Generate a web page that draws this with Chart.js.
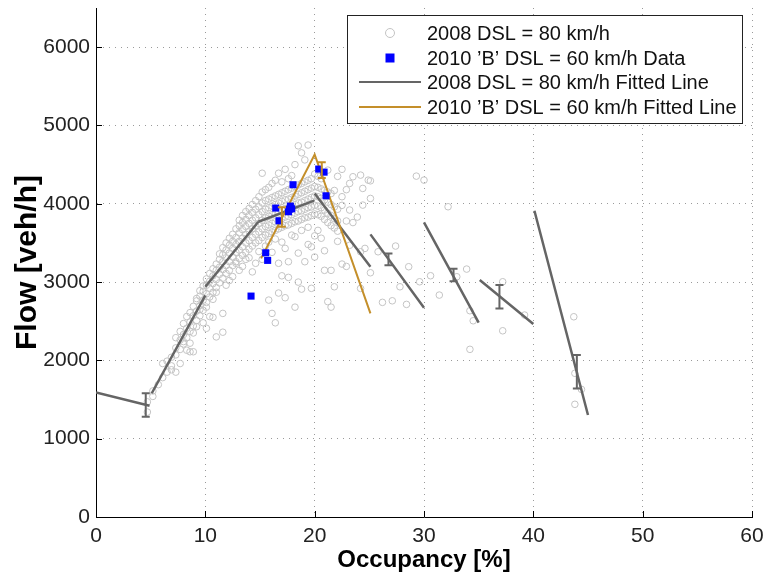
<!DOCTYPE html>
<html><head><meta charset="utf-8">
<script src="https://cdn.jsdelivr.net/npm/chart.js@4.4.0/dist/chart.umd.min.js"></script>
<style>html,body{margin:0;padding:0;background:#fff}#wrap{width:764px;height:579px}</style>
</head><body><div id="wrap"><canvas id="c" width="764" height="579"></canvas></div>
<script>
// ---------- data ----------
const xTicks = [0, 10, 20, 30, 40, 50, 60];
const yTicks = [0, 1000, 2000, 3000, 4000, 5000, 6000];

const legendLabels = [
  "2008 DSL = 80 km/h",
  "2010 \u2019B\u2019 DSL = 60 km/h Data",
  "2008 DSL = 80 km/h Fitted Line",
  "2010 \u2019B\u2019 DSL = 60 km/h Fitted Line"
];

// 2008 scatter (grey circles), grouped by occupancy column
const occ2008 = [4.7,5.2,5.7,6.1,6.5,6.9,7.3,7.7,8.0,8.3,8.6,8.9,9.2,9.5,9.8,10.1,10.4,10.7,11.0,11.3,11.6,11.9,12.2,12.5,12.8,13.1,13.4,13.7,14.0,14.3,14.6,14.9,15.2,15.5,15.8,16.1,16.4,16.7,17.0,17.3,17.6,17.9,18.2,18.5,18.8,19.1,19.4,19.7,20.0,20.3,20.6,20.9,21.2,21.5,21.8,22.1,22.5,22.9,23.2,23.5,23.9,24.2,24.4,24.6,24.9,25.1,25.8,26.2,27.1,27.4,27.8,28.4,28.6,29.3,29.6,30.0,30.6,31.4,32.2,33.0,33.9,34.2,34.5,37.2,39.2,43.7,43.8,44.4];
const flow2008 = [
  [1470,1340],[1540,1610],[1690],[1780,1960],[1850,1990],[1930,2040,1880],[2070,2160,2290,1850],
  [2140,2260,1960,2370],[2210,2330,2470,2240],[2290,2410,2560,2130],[2370,2490,2610,2220,2110],
  [2440,2570,2690,2110,2350],[2510,2630,2760,2430,2790],[2570,2700,2820,2890,2650],[2640,2770,2880,2950,2480],
  [2740,2850,2960,3040,2410,2680],[2810,2920,3010,3110,2560],[2870,2980,3080,3170,2550,2780],
  [2930,3030,3150,3230,2300,2870],[2990,3100,3190,3290,3360],[3050,3160,3260,3350,3440,2600,2360],
  [3110,3210,3310,3410,3500,2960],[3150,3260,3370,3470,3560,3020],[3210,3320,3430,3520,3610,3070],
  [3260,3380,3480,3570,3680,3240],[3300,3410,3520,3630,3720,3790,3150],[3340,3450,3560,3670,3760,3200,3850],
  [3380,3500,3610,3710,3800,3900,3290],[3420,3530,3650,3750,3850,3940,3310],[3460,3570,3680,3790,3890,3990,3130],
  [3500,3610,3720,3820,3930,4040,3240],[3530,3640,3750,3860,3960,4090,3390],[3570,3680,3790,3900,4010,4150,4390,3290],
  [3600,3710,3820,3930,4040,4180,3460],[3620,3730,3840,3950,4060,4210,3510,2770],[3640,3750,3860,3970,4080,4260,3380,2600],
  [3660,3770,3880,3990,4100,4300,3550,2480],[3680,3790,3900,4010,4120,4390,3240,2860],[3700,3810,3920,4030,4140,4280,3080,3510],
  [3720,3830,3940,4050,4160,4440,3430,2800],[3730,3840,3950,4060,4180,4320,3060,3260],[3750,3860,3970,4080,4200,4360,3600],
  [3770,3880,3990,4100,4220,4500,3580,2680],[3780,3900,4010,4120,4240,4740,3000,3370],[3800,3910,4020,4140,4260,4650,2910,3660],
  [3820,3930,4040,4160,4280,4560,3260],[3830,3950,4060,4180,4300,4750,3700,3480],[3850,3960,4080,4200,4320,2920,3450],
  [3870,3980,4100,4220,4380,3320,3590],[3860,3970,4090,4210,4350,3660],[3840,3950,4070,4190,4320,3560],
  [3800,3920,4050,4170,3150,3400],[3760,3880,4020,4150,4430,2750],[3720,3850,3990,4130,3150,2680],
  [3690,3810,3960,4170,2940],[3650,3780,3930,4350,3520],[4440,4090,3980,3230],[3200,3780,4180],
  [3920,3470,4260],[4345,3760],[3830],[4366,3387,2919],[4196,3983],[3430],[4302],[4293,4068,3119],
  [3387],[2741],[2761],[3460],[2940],[2715],[3196],[4353],[3004],[4302],[3081],[2834],[3962],[3068],[3166],
  [2634,2141],[2506],[3004,2378],[2579],[2557],[1439,1835],[1630]
];

// 2010 'B' data (blue squares)
const occ2010 = [20.37,20.86,18.02,21.04,16.44,17.78,17.69,17.9,17.6,16.74,15.52,15.7,14.18];
const flow2010 = [4443,4404,4243,4102,3945,3970,3932,3936,3898,3783,3374,3277,2821];

// 2008 fitted line segments (start/end occupancy and flow)
const fit2008Occ  = [[0,4.9],[5.1,10],[10,14.85],[14.85,19.95],[20,25.1],[25.1,30],[30,35],[35.1,40],[40.1,45]];
const fit2008Flow = [[1590,1420],[1580,2830],[2940,3770],[3770,4040],[4130,3196],[3609,2672],[3762,2481],[3026,2464],[3911,1302]];

// 2010 fitted line
const fit2010Occ  = [15.1, 20.0, 25.1];
const fit2010Flow = [3303, 4630, 2600];

// error bars: occupancy, flow centre, half height
const err2008Occ  = [4.55, 26.75, 32.7, 36.9, 43.98];
const err2008Flow = [1430, 3290, 3090, 2813, 1855];
const err2008Half = [150, 75, 80, 150, 213];
const err2010Occ  = [17.0, 20.65];
const err2010Flow = [3830, 4430];
const err2010Half = [125, 100];

// ---------- styles ----------
const FONT = "'Liberation Sans', Arial, Helvetica, sans-serif";
const GREY_PT = '#c4c4c4';
const BLUE = '#0000ff';
const GREY_LINE = '#656565';
const GOLD = '#c48f2a';

const pts2008 = [];
occ2008.forEach((o, i) => flow2008[i].forEach(f => pts2008.push({x: o, y: f})));
const pts2010 = occ2010.map((o, i) => ({x: o, y: flow2010[i]}));
const fitPts2008 = [];
fit2008Occ.forEach((seg, i) => {
  fitPts2008.push({x: seg[0], y: fit2008Flow[i][0]});
  fitPts2008.push({x: seg[1], y: fit2008Flow[i][1]});
  fitPts2008.push({x: seg[1], y: null});
});
const fitPts2010 = fit2010Occ.map((o, i) => ({x: o, y: fit2010Flow[i]}));

Chart.defaults.font.family = FONT;

const errPlugin = {
  id: 'errbars',
  afterDatasetsDraw(chart) {
    const {ctx, scales: {x, y}} = chart;
    const draw = (occ, flow, half, color, w) => {
      ctx.save();
      ctx.strokeStyle = color; ctx.lineWidth = w;
      occ.forEach((o, i) => {
        const px = x.getPixelForValue(o);
        const p1 = y.getPixelForValue(flow[i] - half[i]);
        const p2 = y.getPixelForValue(flow[i] + half[i]);
        ctx.beginPath();
        ctx.moveTo(px, p1); ctx.lineTo(px, p2);
        ctx.moveTo(px - 4, p1); ctx.lineTo(px + 4, p1);
        ctx.moveTo(px - 4, p2); ctx.lineTo(px + 4, p2);
        ctx.stroke();
      });
      ctx.restore();
    };
    draw(err2008Occ, err2008Flow, err2008Half, GREY_LINE, 2);
    draw(err2010Occ, err2010Flow, err2010Half, GOLD, 2);
  }
};

const tickPlugin = {
  id: 'inticks',
  afterDraw(chart) {
    const {ctx, scales: {x, y}, chartArea: a} = chart;
    ctx.save();
    ctx.strokeStyle = '#000'; ctx.lineWidth = 1;
    ctx.beginPath();
    xTicks.forEach(v => { const p = Math.round(x.getPixelForValue(v)) + 0.5; ctx.moveTo(p, a.bottom); ctx.lineTo(p, a.bottom - 6); });
    yTicks.forEach(v => { const p = Math.round(y.getPixelForValue(v)) + 0.5; ctx.moveTo(a.left, p); ctx.lineTo(a.left + 6, p); });
    ctx.stroke();
    ctx.restore();
  }
};

const legendPlugin = {
  id: 'boxlegend',
  afterDraw(chart) {
    const ctx = chart.ctx;
    const L = 347.5, T = 15.5, W = 395, H = 108;
    ctx.save();
    ctx.fillStyle = '#fff';
    ctx.fillRect(L, T, W, H);
    ctx.strokeStyle = '#222'; ctx.lineWidth = 1;
    ctx.strokeRect(L, T, W, H);
    const rows = [33, 58, 82, 107];
    ctx.strokeStyle = GREY_PT; ctx.lineWidth = 1;
    ctx.beginPath(); ctx.arc(390, rows[0], 4.5, 0, Math.PI * 2); ctx.stroke();
    ctx.fillStyle = BLUE; ctx.fillRect(385.5, rows[1] - 4.5, 9, 9);
    ctx.lineWidth = 2;
    ctx.strokeStyle = GREY_LINE; ctx.beginPath(); ctx.moveTo(359, rows[2]); ctx.lineTo(421, rows[2]); ctx.stroke();
    ctx.strokeStyle = GOLD; ctx.beginPath(); ctx.moveTo(359, rows[3]); ctx.lineTo(421, rows[3]); ctx.stroke();
    ctx.fillStyle = '#111';
    ctx.font = '20px ' + FONT;
    ctx.textBaseline = 'middle';
    legendLabels.forEach((t, i) => ctx.fillText(t, 427, rows[i] + 1));
    ctx.restore();
  }
};

const zeroPad = s => { s.paddingTop = 0; s.paddingBottom = 0; s.paddingLeft = 0; s.paddingRight = 0; };

new Chart(document.getElementById('c'), {
  type: 'scatter',
  data: {
    datasets: [
      {label: legendLabels[1], data: pts2010, order: 1, pointStyle: 'rect', pointRadius: 5, pointBackgroundColor: BLUE, pointBorderColor: BLUE, pointBorderWidth: 0, showLine: false},
      {label: legendLabels[3], data: fitPts2010, order: 2, showLine: true, borderColor: GOLD, borderWidth: 2, pointRadius: 0, fill: false, tension: 0},
      {label: legendLabels[2], data: fitPts2008, order: 3, showLine: true, spanGaps: false, borderColor: GREY_LINE, borderWidth: 2.5, pointRadius: 0, fill: false, tension: 0},
      {label: legendLabels[0], data: pts2008, order: 4, pointStyle: 'circle', pointRadius: 3.3, pointBackgroundColor: 'rgba(0,0,0,0)', pointBorderColor: GREY_PT, pointBorderWidth: 1, showLine: false}
    ]
  },
  options: {
    responsive: false,
    animation: false,
    devicePixelRatio: 1,
    layout: {padding: {top: 8, right: 12, bottom: 0, left: 0}},
    plugins: {legend: {display: false}, tooltip: {enabled: false}},
    scales: {
      x: {
        type: 'linear', min: 0, max: 60,
        afterBuildTicks: s => { s.ticks = xTicks.map(v => ({value: v})); },
        afterFit: s => { s.height = 62; zeroPad(s); },
        ticks: {color: '#222', font: {size: 21}, padding: 7, maxRotation: 0, callback: v => String(v)},
        grid: {color: '#9a9a9a', lineWidth: 1, drawTicks: false},
        border: {display: true, color: '#000', width: 1, dash: [1, 5]},
        title: {display: true, text: 'Occupancy [%]', color: '#000', font: {size: 24, weight: 'bold'}, padding: {top: 0, bottom: 4}}
      },
      y: {
        type: 'linear', min: 0, max: 6500,
        afterBuildTicks: s => { s.ticks = yTicks.map(v => ({value: v})); },
        afterFit: s => { s.width = 96; zeroPad(s); },
        ticks: {color: '#222', font: {size: 21}, padding: 6, callback: v => String(v)},
        grid: {color: '#9a9a9a', lineWidth: 1, drawTicks: false},
        border: {display: true, color: '#000', width: 1, dash: [1, 5]},
        title: {display: true, text: 'Flow [veh/h]', color: '#000', font: {size: 30, weight: 'bold'}, padding: {top: 10, bottom: 0}}
      }
    }
  },
  plugins: [errPlugin, tickPlugin, legendPlugin]
});
</script></body></html>
